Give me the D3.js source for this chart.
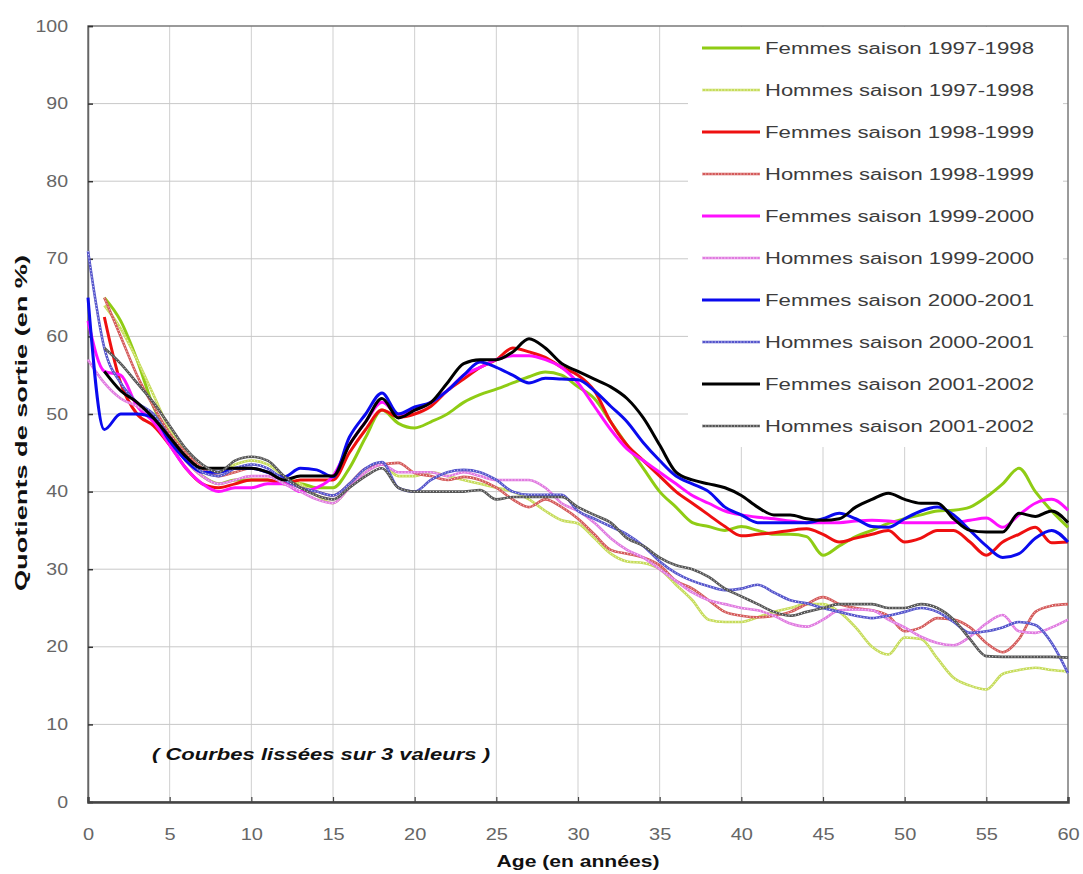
<!DOCTYPE html>
<html><head><meta charset="utf-8">
<script src="https://cdn.jsdelivr.net/npm/d3@7"></script>
<style>
html,body{margin:0;padding:0;background:#fff;}
svg{display:block;font-family:"Liberation Sans",Arial,sans-serif;}
</style></head>
<body><svg id="c" width="1083" height="874"></svg>
<script>
const ages = [0,1,2,3,4,5,6,7,8,9,10,11,12,13,14,15,16,17,18,19,20,21,22,23,24,25,26,27,28,29,30,
  31,32,33,34,35,36,37,38,39,40,41,42,43,44,45,46,47,48,49,50,51,52,53,54,55,56,57,58,59,60];
const xTicks = [0,5,10,15,20,25,30,35,40,45,50,55,60];
const yTicks = [0,10,20,30,40,50,60,70,80,90,100];
const seriesNames = ["Femmes saison 1997-1998","Hommes saison 1997-1998","Femmes saison 1998-1999","Hommes saison 1998-1999",
  "Femmes saison 1999-2000","Hommes saison 1999-2000","Femmes saison 2000-2001","Hommes saison 2000-2001",
  "Femmes saison 2001-2002","Hommes saison 2001-2002"];

const femmes9798 = [null,65,62,57,51,47,44,42,41,41.5,41.5,41.5,41,41,40.5,40.5,43,47,50.5,48.8,48.2,49,50,51.5,52.5,53.2,54,54.8,55.4,55,53.5,52,49,46,43,40,38,36,35.5,35,35.5,35,34.5,34.5,34.2,31.8,33,34.2,35,35.9,36.5,37,37.5,37.6,38,39.3,41,43,40,37.5,35.4];
const hommes9798 = [null,64,61,57,52.5,48,45,43,42.5,43.5,44,43.5,42,41,39.5,38.5,40.5,42.5,43.5,42,42,42.5,42,41.5,41,40.5,40,39,37.5,36.3,35.9,34,32,31,30.8,30,28,26,23.5,23.2,23.2,23.8,24.5,25,25.5,25.5,24.5,22.5,20,19,21.2,21,18.5,16,15,14.5,16.5,17,17.3,17,16.8];
const femmes9899 = [null,62.5,54,50,48.5,46,43,41,40.5,41,41.5,41.5,41,41.5,41.5,41.5,45,48,50.5,49.6,50,51,53,54.5,56,57,58.5,58,57.3,56,55,53,49,46,44,42,40,38.5,37,35.5,34.3,34.5,34.7,35,35.2,34.5,33.5,34,34.5,35,33.5,34,35,35,33.5,31.8,33.5,34.5,35.4,33.4,33.5];
const hommes9899 = [null,65,60,55,51,47.5,45,43,42,42.5,43,42.5,41.5,40.5,40,39.5,41,43,43.5,43.7,42.4,42,41.5,41.9,41.5,40.5,39,38,39,38,36.5,34.5,32.5,32,31.5,30.5,28.5,27.5,26,24.5,24,23.8,24,24.5,25.5,26.4,25.5,25,24.7,24,22,22.5,23.7,23.5,22.5,20.5,19.3,21,24.5,25.3,25.5];
const femmes9900 = [62,55.5,55,51,49,46,43,41,40,40.5,40.5,41,41,40,40.5,42,46,49,51.5,50,50.5,51.5,53,55,56,57,57.5,57.5,57,56,54,51,48,45.5,44,42.5,41,39.5,38.5,37.5,37,36.7,36.5,36.2,36,36,36,36.2,36.3,36.2,36,36,36,36,36.3,36.6,35.4,37,38.5,39,37.6];
const hommes9900 = [57,54,52,51,49.5,47,44,42,41,41.5,42,42,41,40,39,38.5,40.5,42.5,43.5,42.5,42.5,42.5,42,42.5,42,41.5,41.5,41.5,40.5,38.5,37.5,36,34,32.5,31.5,30,28.5,27,26,25.5,25,24.7,24,23,22.6,23.5,24.7,24.8,24.7,23.5,22.5,21.3,20.5,20.2,21.3,23,24.1,22,21.8,22.5,23.5];
const femmes0001 = [65,48,50,50,49.5,46.5,44,42.5,42.5,43,43,42.5,41.9,43,42.8,41.9,47,50,52.7,50,50.9,51.5,53,55,56.7,56,55,54,54.6,54.5,54.4,53,51,49,46.3,44,42,41,40,38,37,36,36,36,36,36.5,37.2,36.5,35.5,35.4,36.5,37.5,38,37,35,33,31.5,32,34,35,33.5];
const hommes0001 = [71,58.5,54,51.5,50,47,44.5,42.5,42,43,43.5,43,41.5,40.5,40,39.5,41,43,43.8,40.5,40,41.5,42.5,42.8,42.5,41.5,40,39.6,39.6,39.6,37.5,36.5,35.5,34.5,33,31,29.5,28.5,27.8,27.3,27.5,28,27,26,25.6,25,24.5,24,23.7,24,24.5,25,24.5,23.2,21.8,22,22.5,23.2,22.8,20.5,16.6];
const femmes0102 = [null,55.5,53,51.5,49.5,47,44.5,43,43,43,43,42.5,41.5,42,42,42,46,49,52,49.5,50.5,51.5,54,56.5,57,57,58,59.7,58.5,56.5,55.5,54.5,53.5,52,49.5,46,42.5,41.5,41,40.5,39.5,38,37,37,36.5,36.3,36.5,38,39,39.8,39,38.5,38.5,36.5,35,34.8,34.8,37.2,36.8,37.5,36];
const hommes0102 = [null,58.5,56.5,54,51.5,48.5,45.5,43.5,42.5,44,44.5,44,42,40.5,39.5,39,40.5,42,43,40.5,40,40,40,40,40.2,39,39.3,39.3,39.3,39.3,38,37,36,34,33,31.5,30.5,30,29,27.5,26.5,25.5,24.5,24,24.5,25,25.5,25.5,25.5,25,25,25.5,25,23.5,21,18.8,18.7,18.7,18.7,18.7,18.6];

const seriesValues = [femmes9798,hommes9798,femmes9899,hommes9899,femmes9900,hommes9900,femmes0001,hommes0001,femmes0102,hommes0102];
const seriesColors = ["#8fcc14","#c6dc5a","#ee1010","#d45a5a","#ff10ff","#e07ae0","#0a0aee","#5555cc","#000000","#555555"];
const seriesMen = [false,true,false,true,false,true,false,true,false,true];

const svg = d3.select("#c");
const x = d3.scaleLinear().domain([0,60]).range([88,1068]);
const y = d3.scaleLinear().domain([0,100]).range([802,26]);

function stretch(sel, f){
  sel.each(function(){ const w=this.getComputedTextLength(); this.setAttribute("textLength", w*f); this.setAttribute("lengthAdjust","spacingAndGlyphs"); });
}

// grid
svg.append("g").selectAll("line").data(xTicks.slice(1,-1)).join("line")
  .attr("x1",d=>x(d)).attr("x2",d=>x(d)).attr("y1",y(100)).attr("y2",y(0))
  .attr("stroke","#cfcfcf").attr("stroke-width",1);
svg.append("g").selectAll("line").data(yTicks.slice(1,-1)).join("line")
  .attr("x1",x(0)).attr("x2",x(60)).attr("y1",d=>y(d)).attr("y2",d=>y(d))
  .attr("stroke","#c8c8c8").attr("stroke-width",1);

// frame
svg.append("rect").attr("x",x(0)).attr("y",y(100)).attr("width",x(60)-x(0)).attr("height",y(0)-y(100))
  .attr("fill","none").attr("stroke","#7a7a7a").attr("stroke-width",1.5);

// axes
const gy = svg.append("g").attr("transform",`translate(${x(0)},0)`)
  .call(d3.axisLeft(y).tickValues(yTicks).tickSize(-5).tickPadding(20).tickFormat(d3.format("d")));
gy.select(".domain").attr("stroke","#666").attr("stroke-width",1.5);
gy.selectAll(".tick line").attr("stroke","#333").attr("stroke-width",1.5);
gy.selectAll("text").attr("font-size",16).attr("fill","#666").attr("font-family","Liberation Sans, Arial");
stretch(gy.selectAll("text"),1.22);

const gx = svg.append("g").attr("transform",`translate(0,${y(0)})`)
  .call(d3.axisBottom(x).tickValues(xTicks).tickSize(-5).tickPadding(27).tickFormat(d3.format("d")));
gx.select(".domain").attr("stroke","#444").attr("stroke-width",2.5);
gx.selectAll(".tick line").attr("stroke","#444").attr("stroke-width",1.2);
gx.selectAll("text").attr("font-size",16).attr("fill","#666").attr("font-family","Liberation Sans, Arial");
stretch(gx.selectAll("text"),1.25);

// lines
const line = d3.line().defined(d=>d[1]!=null).x(d=>x(d[0])).y(d=>y(d[1])).curve(d3.curveMonotoneX);
const plot = svg.append("g");
seriesValues.forEach((vals,i)=>{
  const pts = ages.map((a,j)=>[a,vals[j]]);
  if(seriesMen[i]){
    plot.append("path").attr("d",line(pts)).attr("fill","none").attr("stroke",seriesColors[i]).attr("stroke-width",2.6);
    plot.append("path").attr("d",line(pts)).attr("fill","none").attr("stroke","#fff").attr("stroke-opacity",0.85)
      .attr("stroke-width",1).attr("stroke-dasharray","1,2.2");
  } else {
    plot.append("path").attr("d",line(pts)).attr("fill","none").attr("stroke",seriesColors[i]).attr("stroke-width",3).attr("stroke-linejoin","round");
  }
});

// legend
const lg = svg.append("g");
lg.append("rect").attr("x",688).attr("y",27).attr("width",375).attr("height",420).attr("fill","#fff");
seriesNames.forEach((n,i)=>{
  const yy = 48 + i*42;
  if(seriesMen[i]){
    lg.append("line").attr("x1",702).attr("x2",760).attr("y1",yy).attr("y2",yy).attr("stroke",seriesColors[i]).attr("stroke-width",2.6);
    lg.append("line").attr("x1",702).attr("x2",760).attr("y1",yy).attr("y2",yy).attr("stroke","#fff").attr("stroke-opacity",0.85).attr("stroke-width",1).attr("stroke-dasharray","1,2.2");
  } else {
    lg.append("line").attr("x1",702).attr("x2",760).attr("y1",yy).attr("y2",yy).attr("stroke",seriesColors[i]).attr("stroke-width",3);
  }
  const t = lg.append("text").attr("x",765).attr("y",yy).attr("dy","0.36em").attr("font-size",16).attr("fill","#3c3c3c").text(n);
  t.attr("textLength",269).attr("lengthAdjust","spacingAndGlyphs");
});

// annotation
svg.append("text").attr("x",152).attr("y",760).attr("font-size",17).attr("font-weight","bold").attr("font-style","italic")
  .attr("fill","#111").attr("textLength",338).attr("lengthAdjust","spacingAndGlyphs").text("( Courbes lissées sur 3 valeurs )");

// axis titles
svg.append("text").attr("transform","translate(27,423) rotate(-90)").attr("text-anchor","middle")
  .attr("font-size",17).attr("font-weight","bold").attr("fill","#111")
  .attr("textLength",336).attr("lengthAdjust","spacingAndGlyphs").text("Quotients de sortie  (en %)");
svg.append("text").attr("x",578).attr("y",867).attr("text-anchor","middle")
  .attr("font-size",17).attr("font-weight","bold").attr("fill","#111")
  .attr("textLength",163).attr("lengthAdjust","spacingAndGlyphs").text("Age (en années)");
</script></body></html>
